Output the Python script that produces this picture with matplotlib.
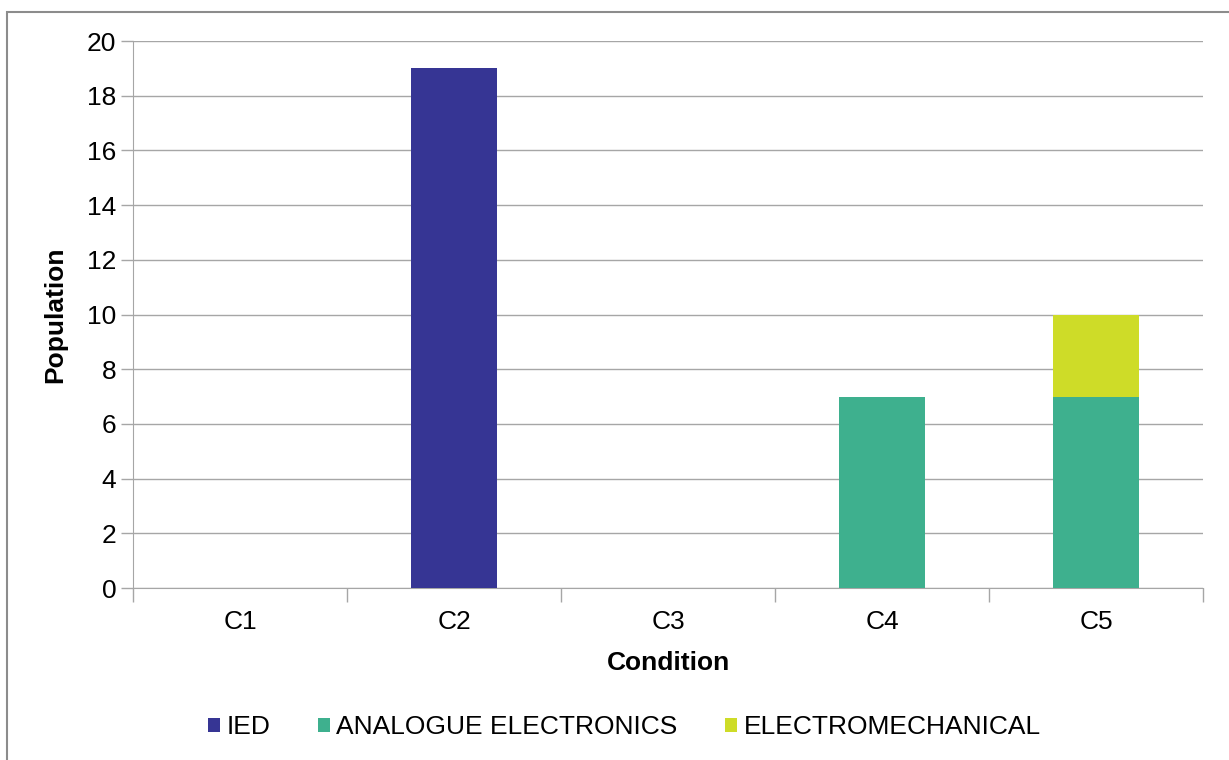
import numpy as np
import matplotlib.pyplot as plt
from matplotlib.patches import Rectangle

plt.rcParams['font.family'] = ['Liberation Sans', 'DejaVu Sans']

condiciones = ['C1', 'C2', 'C3', 'C4', 'C5']
ied = [0, 19, 0, 0, 0]
analogica = [0, 0, 0, 7, 7]
electromecanica = [0, 0, 0, 0, 3]

fig = plt.figure(figsize=(12.29, 7.6), dpi=100)
ax = fig.add_axes([0.1082, 0.2263, 0.8707, 0.7197])

x = np.arange(len(condiciones))
ancho = 0.4
ax.bar(x, ied, ancho, color='#363594', label='IED', zorder=3)
ax.bar(x, analogica, ancho, bottom=ied, color='#3EB08E', label='ANALOGUE ELECTRONICS', zorder=3)
base = np.array(ied) + np.array(analogica)
ax.bar(x, electromecanica, ancho, bottom=base, color='#CEDC28', label='ELECTROMECHANICAL', zorder=3)

ax.set_xlim(-0.5, len(condiciones) - 0.5)
ax.set_ylim(0, 20)
ax.set_yticks(range(0, 21, 2))
ax.yaxis.grid(True, color='#A6A6A6', linewidth=1, zorder=0)

# ticks del eje x en los limites entre categorias
ax.set_xticks(np.arange(-0.5, len(condiciones)), minor=False)
ax.set_xticklabels([])
ax.set_xticks(x, minor=True)
ax.set_xticklabels(condiciones, minor=True)
ax.tick_params(axis='x', which='major', length=10, color='#A6A6A6', width=1)
ax.tick_params(axis='x', which='minor', length=0, labelsize=19, pad=16)
ax.tick_params(axis='y', length=9, color='#A6A6A6', width=1, labelsize=19, pad=3)

for lado in ['top', 'right']:
    ax.spines[lado].set_visible(False)
for lado in ['left', 'bottom']:
    ax.spines[lado].set_color('#A6A6A6')

ax.set_xlabel('Condition', fontsize=19, fontweight='bold', labelpad=12)
ax.set_ylabel('Population', fontsize=19, fontweight='bold', labelpad=14)

fig.legend(loc='center', bbox_to_anchor=(0.508, 0.043), ncol=3, frameon=False,
           fontsize=19, handlelength=0.45, handleheight=0.45, handletextpad=0.25,
           columnspacing=1.8)

# marco gris alrededor del grafico
fig.patches.append(Rectangle((7 / 1229, -0.1), 1.2, 1.1 - 12 / 760,
                             transform=fig.transFigure, fill=False,
                             edgecolor='#8C8C8C', linewidth=1.5))

fig.savefig('out.png', dpi=100)
